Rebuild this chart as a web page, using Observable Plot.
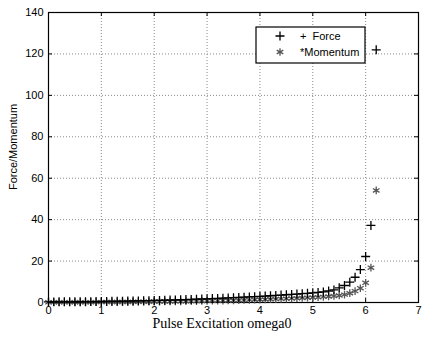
<!DOCTYPE html>
<html>
<head>
<meta charset="utf-8">
<script src="https://cdn.jsdelivr.net/npm/d3@7"></script>
<script src="https://cdn.jsdelivr.net/npm/@observablehq/plot@0.6"></script>
<style>
  html, body { margin: 0; padding: 0; background: white; }
  svg { display: block; }
</style>
</head>
<body>
<div id="chart"></div>
<script>
const omega = [0.0,0.1,0.2,0.3,0.4,0.5,0.6,0.7,0.8,0.9,
  1.0,1.1,1.2,1.3,1.4,1.5,1.6,1.7,1.8,1.9,
  2.0,2.1,2.2,2.3,2.4,2.5,2.6,2.7,2.8,2.9,
  3.0,3.1,3.2,3.3,3.4,3.5,3.6,3.7,3.8,3.9,
  4.0,4.1,4.2,4.3,4.4,4.5,4.6,4.7,4.8,4.9,
  5.0,5.1,5.2,5.3,5.4,5.5,5.6,5.7,5.8,5.9,
  6.0,6.1,6.2];
const force = [0.30,0.30,0.31,0.32,0.33,0.35,0.37,0.39,0.42,0.45,
  0.48,0.51,0.55,0.59,0.63,0.68,0.73,0.78,0.84,0.90,
  0.96,1.03,1.10,1.17,1.25,1.33,1.41,1.50,1.59,1.68,
  1.78,1.88,1.98,2.09,2.20,2.32,2.44,2.57,2.70,2.84,
  2.98,3.12,3.27,3.42,3.58,3.74,3.90,4.07,4.25,4.45,
  4.65,4.85,5.10,5.55,6.10,7.1,8.2,9.8,12.2,15.9,
  22.2,37.2,122];
const momentum = [0.10,0.10,0.11,0.11,0.12,0.13,0.14,0.15,0.16,0.18,
  0.19,0.21,0.23,0.25,0.27,0.29,0.31,0.34,0.36,0.39,
  0.42,0.45,0.48,0.51,0.55,0.58,0.62,0.66,0.70,0.74,
  0.79,0.84,0.89,0.94,1.00,1.06,1.12,1.19,1.26,1.33,
  1.41,1.49,1.57,1.66,1.75,1.85,1.95,2.06,2.17,2.29,
  2.42,2.56,2.72,2.90,3.12,3.40,3.80,4.5,5.5,6.9,
  9.5,16.8,54.1];
const xTicks = [0,1,2,3,4,5,6,7];
const yTicks = [0,20,40,60,80,100,120,140];
const seriesNames = ["Force", "Momentum"];
const legendLabels = ["+  Force", "*Momentum"];
const xLabel = "Pulse Excitation omega0";
const yLabel = "Force/Momentum";

const rows = omega.map((w, i) => ({omega: w, force: force[i], momentum: momentum[i]}));

const W = 431, H = 338, mL = 48, mR = 13, mT = 12, mB = 36;
const frameW = W - mL - mR, frameH = H - mT - mB;
const gridStyle = {stroke: "#8a8a8a", strokeOpacity: 1, strokeDasharray: "1,2"};

const plot = Plot.plot({
  width: W, height: H,
  marginLeft: mL, marginRight: mR, marginTop: mT, marginBottom: mB,
  style: {fontFamily: "'Liberation Sans', Arial, sans-serif", fontSize: "11px", background: "white", color: "black"},
  x: {domain: [0, 7]},
  y: {domain: [0, 140]},
  marks: [
    Plot.gridX(xTicks, gridStyle),
    Plot.gridY(yTicks, gridStyle),
    Plot.axisX(xTicks, {tickSize: 0, tickPadding: 4, label: null, fontSize: 11}),
    Plot.axisY(yTicks, {tickSize: 0, tickPadding: 5, label: null, fontSize: 11}),
    Plot.tickX(xTicks, {x: d => d, insetTop: frameH - 4, stroke: "black"}),
    Plot.tickX(xTicks, {x: d => d, insetBottom: frameH - 4, stroke: "black"}),
    Plot.tickY(yTicks, {y: d => d, insetRight: frameW - 4, stroke: "black"}),
    Plot.tickY(yTicks, {y: d => d, insetLeft: frameW - 4, stroke: "black"}),
    Plot.frame({stroke: "black", strokeWidth: 1.2}),
    Plot.dot(rows, {x: "omega", y: "momentum", symbol: "asterisk", r: 3.6, stroke: "#555", strokeWidth: 1.3}),
    Plot.dot(rows, {x: "omega", y: "force", symbol: "plus", r: 3, stroke: "black", strokeWidth: 1.3})
  ]
});

const svg = d3.select(plot);
// axis labels
svg.append("text")
  .attr("transform", `translate(13,${mT + frameH / 2 - 10}) rotate(-90)`)
  .attr("text-anchor", "middle").attr("dy", "0.35em")
  .style("font-family", "'Liberation Sans', Arial, sans-serif").style("font-size", "11px")
  .text(yLabel);
svg.append("text")
  .attr("x", 222).attr("y", 323)
  .attr("text-anchor", "middle").attr("dy", "0.35em")
  .style("font-family", "'Liberation Serif', 'Times New Roman', serif").style("font-size", "14px")
  .text(xLabel);

// legend
const lg = svg.append("g");
lg.append("rect").attr("x", 256).attr("y", 27).attr("width", 109).attr("height", 36)
  .attr("fill", "white").attr("stroke", "black").attr("stroke-width", 1.2);
const symPlus = d3.symbol(d3.symbolPlus, Math.PI * 9)();
const symAst = d3.symbol(d3.symbolAsterisk, Math.PI * 3.6 * 3.6)();
lg.append("path").attr("d", symPlus).attr("transform", "translate(280,36)")
  .attr("fill", "none").attr("stroke", "black").attr("stroke-width", 1.3);
lg.append("path").attr("d", symAst).attr("transform", "translate(280,52)")
  .attr("fill", "none").attr("stroke", "#555").attr("stroke-width", 1.3);
lg.append("text").attr("x", 300).attr("y", 36).attr("dy", "0.35em")
  .attr("text-anchor", "start")
  .style("font-family", "'Liberation Sans', Arial, sans-serif").style("font-size", "11px")
  .style("white-space", "pre")
  .text(legendLabels[0]);
lg.append("text").attr("x", 300).attr("y", 52).attr("dy", "0.35em")
  .attr("text-anchor", "start")
  .style("font-family", "'Liberation Sans', Arial, sans-serif").style("font-size", "11px")
  .text(legendLabels[1]);

document.getElementById("chart").appendChild(plot);
</script>
</body>
</html>
